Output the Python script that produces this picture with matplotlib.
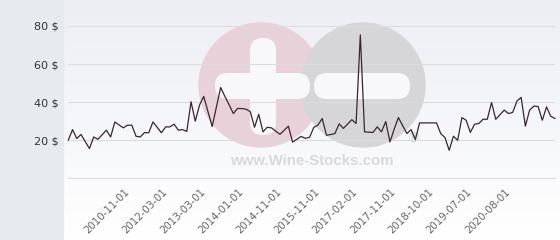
import matplotlib
matplotlib.use('Agg')
import matplotlib.pyplot as plt
from matplotlib.patches import Circle, FancyBboxPatch, Rectangle
import numpy as np

# ── Colours ───────────────────────────────────────────────────────────
PANEL_CLR = '#e6ebee'   # left label strip
LINE_CLR  = '#3a2631'   # price line
GRID_CLR  = '#dcdcdc'
YLAB_CLR  = '#333333'
XLAB_CLR  = '#666666'
PINK_CLR  = '#e8d1d9'
GREY_CLR  = '#d6d6d8'

# ── Data (one point per observation, categorical x) ──────────────────
prices = [20, 25.6, 20.9, 23, 19.3, 15.6, 21.7, 20.5, 22.9, 25.3,
          21.7, 29.6, 28, 26.5, 27.9, 27.9, 22.1, 21.7, 24, 23.9,
          29.6, 26.8, 23.9, 27, 27, 28.4, 25.3, 25.6, 24.6, 40.2,
          30, 38.4, 43, 35, 27.2, 37.5, 47.7, 43, 38.6, 34,
          36.7, 36.6, 36.3, 35, 26.8, 33.6, 24.4, 26.8, 26.5, 24.8,
          23.1, 25.2, 27.4, 19, 20.5, 22, 21, 21.5, 26.7, 28,
          31.4, 22.6, 23, 23.5, 28.6, 26.2, 28.5, 30.8, 28.8, 75.3,
          24.4, 24.2, 24.1, 27, 24.4, 29.8, 19.1, 25.8, 31.9, 27.7,
          23.5, 25.6, 20.3, 29.1, 29.1, 29.1, 29.1, 29.1, 23.5, 21.4,
          14.7, 22.1, 20, 31.9, 30.5, 24.1, 28.4, 28.8, 31, 31,
          39.8, 31, 33.4, 35.8, 34, 34.6, 40.5, 42.5, 27.4, 35.8,
          37.9, 37.7, 30.5, 37.5, 32.6, 31.4]
tick_idx = [14, 23, 32, 41, 50, 59, 68, 77, 86, 95, 104]
tick_labels = ['2010-11-01', '2012-03-01', '2013-03-01', '2014-01-01',
               '2014-11-01', '2015-11-01', '2017-02-01', '2017-11-01',
               '2018-10-01', '2019-07-01', '2020-08-01']
y_ticks = [0, 20, 40, 60, 80]
y_labels = ['', '20 $', '40 $', '60 $', '80 $']

W, H = 560, 240
fig = plt.figure(figsize=(W / 100, H / 100), dpi=100)

# ── Background + watermark, in pixel coords ───────────────────────────
bg = fig.add_axes([0, 0, 1, 1])
bg.set_xlim(0, W)
bg.set_ylim(H, 0)
bg.axis('off')
top = np.array([236, 238, 244]) / 255
bot = np.array([255, 255, 255]) / 255
t = np.linspace(0, 1, 200)[:, None]
grad = (top * (1 - t) + bot * t)[:, None, :]
bg.imshow(grad, extent=[63, W, H, 0], aspect='auto', zorder=0)
bg.add_patch(Rectangle((0, 0), 63, H, color=PANEL_CLR, zorder=1))

bg.add_patch(Circle((261, 85), 62, color=PINK_CLR, zorder=2))
bg.add_patch(Circle((363, 85), 62, color=GREY_CLR, zorder=3))
for (x0, y0, w, h) in [(250, 38, 26, 97), (215, 73, 95, 26),
                       (314, 73, 96, 26)]:
    bg.add_patch(FancyBboxPatch((x0, y0), w, h,
                                boxstyle='round,pad=0,rounding_size=13',
                                fc='#f8f8fa', ec='none', zorder=4))
bg.text(312, 161, 'www.Wine-Stocks.com', ha='center', va='center',
        fontsize=10.8, fontweight='bold', family='Liberation Sans',
        color='#d9d9dc', zorder=4)
bg.text(413, 139, '\u00ae', ha='center', va='center', fontsize=10,
        color='#cfcfd2', zorder=4)

# ── Chart ─────────────────────────────────────────────────────────────
x0_px, x1_px, y0_px = 68.3, 555.0, 178.3
ax = fig.add_axes([x0_px / W, (H - y0_px) / H,
                   (x1_px - x0_px) / W, y0_px / H])
ax.patch.set_alpha(0)
ax.set_xlim(0, len(prices) - 1)
ax.set_ylim(0, y0_px / 1.904)

ax.plot(np.arange(len(prices)), prices, color=LINE_CLR, lw=0.9,
        clip_on=False, zorder=5)

ax.set_yticks(y_ticks)
ax.set_yticklabels(y_labels, fontsize=8, color=YLAB_CLR)
ax.set_xticks(tick_idx)
ax.set_xticklabels(tick_labels, fontsize=7.4, color=XLAB_CLR, rotation=45,
                   ha='right', va='center', rotation_mode='anchor')
ax.tick_params(axis='y', length=0, pad=6.7)
ax.tick_params(axis='x', length=0, pad=8.5)
ax.yaxis.grid(True, color=GRID_CLR, lw=0.8, zorder=1)
ax.axhline(0, color=GRID_CLR, lw=0.8, clip_on=False, zorder=1)
ax.xaxis.grid(False)
for s in ax.spines.values():
    s.set_visible(False)

fig.savefig('out.png', dpi=100)
plt.close()
